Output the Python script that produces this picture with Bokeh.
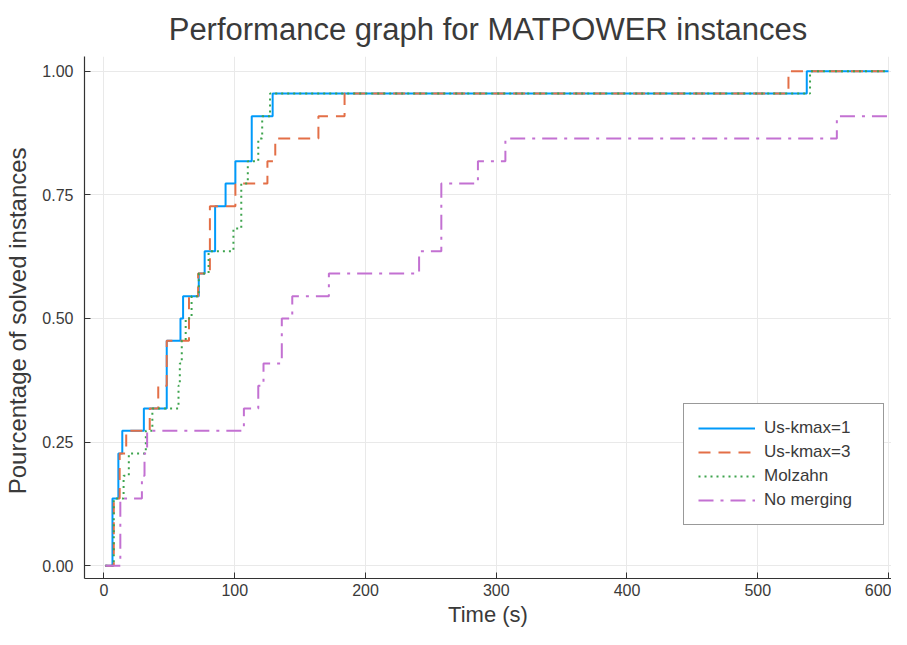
from bokeh.plotting import figure
from bokeh.models import FixedTicker, Legend, LegendItem
from bokeh.embed import file_html
from bokeh.resources import INLINE

# ---- data ----
time_us1 = [1, 6.5, 11, 14, 30.5, 48, 58.5, 60.5, 72.5, 77, 85, 93, 100.5, 113, 129, 537.5, 600]
share_us1 = [0.0, 0.136, 0.227, 0.273, 0.318, 0.455, 0.500, 0.545, 0.591, 0.636, 0.727, 0.773, 0.818, 0.909, 0.955, 1.0, 1.0]

time_us3 = [1, 7.5, 12, 17, 35, 41.5, 48, 65, 72, 81, 100.5, 125, 131, 164, 184, 523.5, 600]
share_us3 = [0.0, 0.136, 0.227, 0.273, 0.318, 0.364, 0.455, 0.545, 0.591, 0.727, 0.773, 0.818, 0.864, 0.909, 0.955, 1.0, 1.0]

time_molz = [1, 7.5, 15, 19, 32, 37, 57, 58, 59.5, 62.5, 67, 72.5, 80, 99, 105, 110, 118, 121, 127, 540, 600]
share_molz = [0.0, 0.136, 0.182, 0.227, 0.273, 0.318, 0.364, 0.409, 0.455, 0.500, 0.545, 0.591, 0.636, 0.682, 0.773, 0.818, 0.864, 0.909, 0.955, 1.0, 1.0]

time_nomerge = [1, 12.5, 29, 31, 33, 107, 118, 122, 136, 144, 172, 241, 258, 286, 307, 560.5, 600]
share_nomerge = [0.0, 0.136, 0.182, 0.227, 0.273, 0.318, 0.364, 0.409, 0.500, 0.545, 0.591, 0.636, 0.773, 0.818, 0.864, 0.909, 0.909]

series_names = ["Us-kmax=1", "Us-kmax=3", "Molzahn", "No merging"]
x_ticks = [0, 100, 200, 300, 400, 500, 600]
y_ticks = [0.0, 0.25, 0.5, 0.75, 1.0]
y_tick_labels = ["0.00", "0.25", "0.50", "0.75", "1.00"]

FONT = "Liberation Sans"
TXT = "#3a3a3a"

p = figure(width=891, height=629, x_range=(-14.9, 602.3), y_range=(-0.026, 1.030),
           output_backend="svg", toolbar_location=None,
           min_border_left=84, min_border_right=0, min_border_top=55, min_border_bottom=49)

p.title.text = "Performance graph for MATPOWER instances"
p.title.align = "center"
p.title.text_font = FONT
p.title.text_font_size = "31px"
p.title.text_font_style = "normal"
p.title.text_color = TXT
p.title.standoff = 19

p.outline_line_color = None
p.background_fill_color = "white"
p.border_fill_color = "white"

for ax in (p.xaxis[0], p.yaxis[0]):
    ax.axis_line_color = "#333333"
    ax.axis_line_width = 1.2
    ax.major_tick_line_color = "#333333"
    ax.major_tick_in = 6
    ax.major_tick_out = 0
    ax.minor_tick_line_color = None
    ax.major_label_text_font = FONT
    ax.major_label_text_font_size = "16px"
    ax.major_label_text_color = TXT
    ax.major_label_text_line_height = 1.0
    ax.axis_label_text_font = FONT
    ax.axis_label_text_font_style = "normal"
    ax.axis_label_text_color = TXT
    ax.axis_label_text_line_height = 1.0

p.xaxis.ticker = FixedTicker(ticks=x_ticks)
p.yaxis.ticker = FixedTicker(ticks=y_ticks)
p.yaxis.major_label_overrides = dict(zip(y_ticks, y_tick_labels))
p.xaxis.axis_label = "Time (s)"
p.yaxis.axis_label = "Pourcentage of  solved instances"
p.xaxis.axis_label_text_font_size = "22px"
p.yaxis.axis_label_text_font_size = "24px"
p.xaxis.major_label_standoff = 5
p.yaxis.major_label_standoff = 11
p.xaxis.axis_label_standoff = 3
p.yaxis.axis_label_standoff = 8

p.xgrid.ticker = FixedTicker(ticks=x_ticks)
p.ygrid.ticker = FixedTicker(ticks=y_ticks)
p.grid.grid_line_color = "#e9e9e9"
p.grid.grid_line_width = 1

r1 = p.step(time_us1, share_us1, mode="after", line_color="#009AFA", line_width=2)
r2 = p.step(time_us3, share_us3, mode="after", line_color="#E36F47", line_width=2, line_dash="12 8")
r3 = p.step(time_molz, share_molz, mode="after", line_color="#3EA44E", line_width=2, line_dash="2 4")
r4 = p.step(time_nomerge, share_nomerge, mode="after", line_color="#C371D2", line_width=2, line_dash="15 7 3 7")

legend = Legend(items=[LegendItem(label=n, renderers=[r]) for n, r in zip(series_names, [r1, r2, r3, r4])],
                location=(599, 53), orientation="vertical")
legend.border_line_color = "#333333"
legend.border_line_width = 1
legend.background_fill_color = "white"
legend.background_fill_alpha = 1.0
legend.label_text_font = FONT
legend.label_text_font_size = "17px"
legend.label_text_color = TXT
legend.glyph_width = 57
legend.glyph_height = 20
legend.label_height = 20
legend.label_width = 105
legend.label_standoff = 9
legend.padding = 14
legend.spacing = 4
legend.margin = 0
p.add_layout(legend, "center")

open("out.html", "w").write(file_html(p, INLINE))
